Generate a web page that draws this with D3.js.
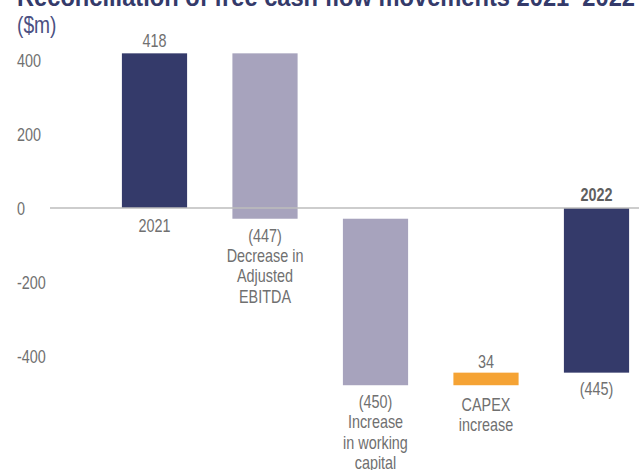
<!DOCTYPE html>
<html>
<head>
<meta charset="utf-8">
<script src="https://cdn.jsdelivr.net/npm/d3@7"></script>
<style>
  html, body { margin: 0; padding: 0; background: #fff; }
  svg { display: block; }
  text { font-family: "Liberation Sans Narrow", "Arial Narrow", "Liberation Sans", Arial, sans-serif; }
</style>
</head>
<body>
<svg id="chart" width="639" height="470"></svg>
<script>
// Free cash flow bridge 2021 → 2022 ($m)
const categories = ["2021", "Decrease in Adjusted EBITDA", "Increase in working capital", "CAPEX increase", "2022"];
const kinds      = ["total", "delta", "delta", "delta", "total"];
const values     = [418, -447, -450, 34, -445];
const valueLabels = ["418", "(447)", "(450)", "34", "(445)"];
const nameLines  = [["2021"], ["Decrease in", "Adjusted", "EBITDA"], ["Increase", "in working", "capital"], ["CAPEX", "increase"], ["2022"]];
const yTicks     = [400, 200, 0, -200, -400];

const colors = { total: "#343a6a", down: "#a7a3bd", up: "#f5a334" };
const textGrey = "#707070";
const squeeze = 0.8; // condensed lettering

const svg = d3.select("#chart");
const W = 639;

// Condensed text placed at (x, y)
function label(g, x, y, str, anchor = "middle") {
  return g.append("text")
    .attr("transform", `translate(${x},${y}) scale(${squeeze},1)`)
    .attr("text-anchor", anchor)
    .text(str);
}

// Waterfall segments: totals start from zero, deltas from the running total
let running = 0;
const bars = categories.map((c, i) => {
  let y0, y1;
  if (kinds[i] === "total") { y0 = 0; y1 = values[i]; running = values[i]; }
  else { y0 = running; y1 = running + values[i]; running = y1; }
  return { cat: c, i, kind: kinds[i], value: values[i], y0, y1 };
});

const x = d3.scaleBand().domain(categories).range([99.25, 651.75]).paddingInner(0.41).paddingOuter(0.205);
const y = d3.scaleLinear().domain([-400, 400]).range([356, 60]);

// Title and unit
svg.append("text")
  .attr("x", 17).attr("y", 6)
  .attr("font-size", 26).attr("font-weight", "bold").attr("fill", "#343a6a")
  .attr("textLength", 618).attr("lengthAdjust", "spacingAndGlyphs")
  .text("Reconciliation of free cash flow movements 2021–2022");
const unit = svg.append("g").attr("font-size", 24).attr("fill", "#4b5082");
label(unit, 17, 33, "($m)", "start");

// Y tick labels (no axis line)
const ticksG = svg.append("g").attr("font-size", 18).attr("fill", textGrey);
yTicks.forEach(t => label(ticksG, 17, y(t) + 6.5, String(t), "start"));

// Bars
svg.append("g").selectAll("rect").data(bars).join("rect")
  .attr("x", d => x(d.cat))
  .attr("width", x.bandwidth())
  .attr("y", d => y(Math.max(d.y0, d.y1)))
  .attr("height", d => Math.abs(y(d.y0) - y(d.y1)))
  .attr("fill", d => d.kind === "total" ? colors.total : (d.value < 0 ? colors.down : colors.up));

// Zero line
svg.append("line")
  .attr("x1", 50).attr("x2", W)
  .attr("y1", y(0)).attr("y2", y(0))
  .attr("stroke", "#bdbdbd").attr("stroke-width", 1.5);

const cx = d => x(d.cat) + x.bandwidth() / 2;
const labels = svg.append("g").attr("font-size", 18).attr("fill", textGrey);

bars.forEach((d, i) => {
  const top = y(Math.max(d.y0, d.y1));
  const bottom = y(Math.min(d.y0, d.y1));
  if (i === 0) {
    label(labels, cx(d), top - 6, valueLabels[i]);
    label(labels, cx(d), y(0) + 24, nameLines[i][0]);
  } else if (i === bars.length - 1) {
    label(labels, cx(d), y(0) - 7, nameLines[i][0])
      .attr("font-weight", "bold").attr("fill", "#5f5f5f");
    label(labels, cx(d), bottom + 22, valueLabels[i]);
  } else if (d.value > 0) {
    label(labels, cx(d), top - 5, valueLabels[i]);
    nameLines[i].forEach((ln, k) => label(labels, cx(d), bottom + 26 + k * 20, ln));
  } else {
    label(labels, cx(d), bottom + 23, valueLabels[i]);
    nameLines[i].forEach((ln, k) => label(labels, cx(d), bottom + 43 + k * 20.5, ln));
  }
});
</script>
</body>
</html>
